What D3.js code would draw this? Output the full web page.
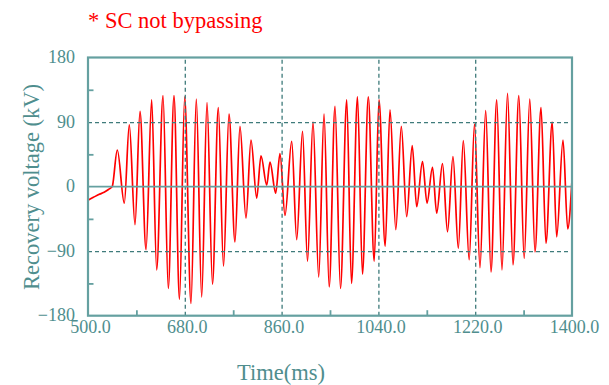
<!DOCTYPE html>
<html><head><meta charset="utf-8">
<script src="https://cdn.jsdelivr.net/npm/d3@7"></script>
<style>body{margin:0;background:#fff}svg{display:block}</style>
</head><body><svg id="c" width="609" height="385"></svg>
<script>
const titleText = "* SC not bypassing";
const xTitle = "Time(ms)";
const yTitle = "Recovery voltage (kV)";
const xTicks = [500, 680, 860, 1040, 1220, 1400];
const xGrid = [680, 860, 1040, 1220];
const xMinorTicks = [590, 770, 950, 1130, 1310];
const yTicks = [-180, -90, 0, 90, 180];
const yGrid = [-90, 90];
const yMinorTicks = [-135, -45, 45, 135];

const rampTime = [500, 510, 520, 530, 538, 545];
const rampValue = [-19, -15, -11, -8, -4, 0];
const peakTime = [554.5, 576.8, 596.7, 618.4, 639.5, 659.9, 679.8, 701.4, 721.3, 742.3, 762.2, 782.6, 803.1, 821.7, 838.4, 857.0, 878.8, 898.9, 918.4, 938.9, 959.3, 981.1, 1001.1, 1021.2, 1041.1, 1061.6, 1082.6, 1102.9, 1122.0, 1140.6, 1159.2, 1178.7, 1197.9, 1218.7, 1239.5, 1260.0, 1280.1, 1301.1, 1321.5, 1342.4, 1363.2, 1383.3];
const peakValue = [51, 86, 105, 121, 127, 127, 125, 122, 117, 110, 101, 84, 65, 43, 34, 46, 63, 77, 90, 101, 112, 121, 125, 125, 121, 107, 84, 57, 35, 27, 32, 42, 64, 87, 106, 121, 130, 127, 122, 110, 90, 65];
const troughTime = [567.5, 587.4, 607.9, 627.7, 649.3, 670.1, 691.5, 711.4, 731.5, 752.0, 773.3, 793.8, 813.7, 832.3, 849.0, 866.3, 888.1, 908.2, 929.0, 948.5, 969.5, 990.0, 1010.4, 1032.2, 1052.6, 1072.4, 1092.6, 1111.2, 1130.4, 1148.4, 1168.5, 1188.6, 1208.8, 1228.9, 1249.4, 1269.8, 1290.3, 1311.1, 1331.2, 1351.6, 1371.5, 1392.0];
const troughValue = [-23, -53, -88, -116, -142, -157, -163, -154, -136, -111, -77, -44, -16, 2, -9, -40, -74, -104, -126, -140, -142, -135, -122, -104, -83, -60, -42, -28, -23, -37, -63, -86, -102, -113, -119, -116, -109, -100, -91, -79, -70, -59];
const endTime = [1400];
const endValue = [10];

// build series from the arrays
const series = [];
rampTime.forEach((t, i) => series.push([t, rampValue[i]]));
peakTime.forEach((t, i) => {
  series.push([t, peakValue[i]]);
  series.push([troughTime[i], troughValue[i]]);
});
endTime.forEach((t, i) => series.push([t, endValue[i]]));

const L = 88, R = 572, T = 57.5, B = 315.7;
const frameCol = "#65a0a0", textCol = "#4f8e8e", gridCol = "#3f7b7b";
const font = "'Liberation Serif', 'Times New Roman', serif";

const svg = d3.select("#c");
const x = d3.scaleLinear().domain([500, 1400]).range([L, R]);
const y = d3.scaleLinear().domain([-180, 180]).range([B, T]);

svg.append("defs").append("clipPath").attr("id", "clip")
  .append("rect").attr("x", L).attr("y", T).attr("width", R - L).attr("height", B - T);

// data line
const line = d3.line().x(d => x(d[0])).y(d => y(d[1])).curve(d3.curveMonotoneX);
svg.append("path").datum(series)
  .attr("clip-path", "url(#clip)")
  .attr("d", line).attr("fill", "none")
  .attr("stroke", "#ff0000").attr("stroke-width", 1.7)
  .attr("stroke-linejoin", "round");

// grid (dashed)
const gx = svg.append("g").attr("transform", `translate(0,${B})`)
  .call(d3.axisBottom(x).tickValues(xGrid).tickSize(-(B - T)).tickFormat(""));
gx.select(".domain").remove();
gx.selectAll("line").attr("stroke", gridCol).attr("stroke-width", 1.3).attr("stroke-dasharray", "4,3");

const gy = svg.append("g").attr("transform", `translate(${L},0)`)
  .call(d3.axisLeft(y).tickValues(yGrid).tickSize(-(R - L)).tickFormat(""));
gy.select(".domain").remove();
gy.selectAll("line").attr("stroke", gridCol).attr("stroke-width", 1.3).attr("stroke-dasharray", "4,3");

// zero line
svg.append("line").attr("x1", L).attr("x2", R).attr("y1", y(0)).attr("y2", y(0))
  .attr("stroke", frameCol).attr("stroke-width", 1.8);

// minor ticks
const mx = svg.append("g").attr("transform", `translate(0,${B})`)
  .call(d3.axisBottom(x).tickValues(xMinorTicks).tickSize(-5.5).tickFormat(""));
mx.select(".domain").remove();
mx.selectAll("line").attr("stroke", frameCol).attr("stroke-width", 1.8);
const my = svg.append("g").attr("transform", `translate(${L},0)`)
  .call(d3.axisLeft(y).tickValues(yMinorTicks).tickSize(-5.5).tickFormat(""));
my.select(".domain").remove();
my.selectAll("line").attr("stroke", frameCol).attr("stroke-width", 1.8);

// frame
svg.append("rect").attr("x", L).attr("y", T).attr("width", R - L).attr("height", B - T)
  .attr("fill", "none").attr("stroke", frameCol).attr("stroke-width", 2.2);

// tick labels
const ax = svg.append("g").attr("transform", `translate(0,${B})`)
  .call(d3.axisBottom(x).tickValues(xTicks).tickSize(0).tickFormat(d3.format(".1f")));
ax.select(".domain").remove();
ax.selectAll("text").attr("font-family", font).attr("font-size", 18)
  .attr("fill", textCol).attr("dy", null).attr("y", 17.6).attr("dx", 2);

const ay = svg.append("g").attr("transform", `translate(${L},0)`)
  .call(d3.axisLeft(y).tickValues(yTicks).tickSize(0).tickFormat(d3.format("d")));
ay.select(".domain").remove();
ay.selectAll("text").attr("font-family", font).attr("font-size", 18)
  .attr("fill", textCol).attr("dy", null).attr("y", 5).attr("x", -13);

// titles
svg.append("text").attr("x", L).attr("y", 28.3)
  .attr("font-family", font).attr("font-size", 22.5).attr("fill", "#ff0000")
  .text(titleText);
svg.append("text").attr("x", 237).attr("y", 380)
  .attr("font-family", font).attr("font-size", 22.5).attr("fill", textCol)
  .text(xTitle);
svg.append("text").attr("transform", "translate(38.5,187) rotate(-90)")
  .attr("text-anchor", "middle")
  .attr("font-family", font).attr("font-size", 22.5).attr("fill", textCol)
  .text(yTitle);
</script>
</body></html>
